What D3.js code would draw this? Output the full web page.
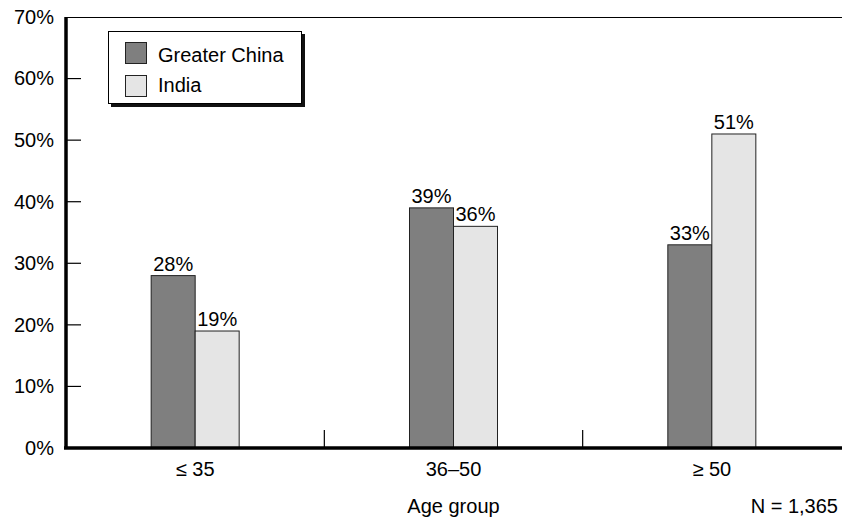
<!DOCTYPE html>
<html>
<head>
<meta charset="utf-8">
<script src="https://cdn.jsdelivr.net/npm/d3@7"></script>
<style>
  html, body { margin: 0; padding: 0; background: #fff; }
  svg { display: block; font-family: "Liberation Sans", Arial, Helvetica, sans-serif; }
</style>
</head>
<body>
<svg id="chart" width="842" height="517"></svg>
<script>
// Share of respondents by age group
const ageGroups = ["≤ 35", "36–50", "≥ 50"];
const seriesNames = ["Greater China", "India"];
const greaterChina = [28, 39, 33];
const india = [19, 36, 51];
const yTicks = [0, 10, 20, 30, 40, 50, 60, 70];
const xTitle = "Age group";
const sampleNote = "N = 1,365";

const colors = ["#7f7f7f", "#e5e5e5"];
const seriesValues = [greaterChina, india];
const FS = 20;

const svg = d3.select("#chart");
const W = 842;
const plotLeft = 66, plotRight = 841, plotTop = 17, plotBottom = 448;

const x = d3.scaleBand().domain(ageGroups).range([plotLeft, plotRight]);
const xInner = d3.scaleBand().domain(seriesNames).range([0, 88]);
const y = d3.scaleLinear().domain([0, 70]).range([plotBottom, plotTop]);

// top frame line
svg.append("line")
  .attr("x1", plotLeft).attr("x2", W).attr("y1", plotTop + 0.5).attr("y2", plotTop + 0.5)
  .attr("stroke", "#000").attr("stroke-width", 1);

// y axis labels and inward ticks
const yAxis = d3.axisLeft(y).tickValues(yTicks).tickFormat(d => d + "%").tickSize(0).tickPadding(12);
const gy = svg.append("g").attr("transform", `translate(${plotLeft},0)`).call(yAxis);
gy.select(".domain").remove();
gy.selectAll("text").attr("font-size", FS).attr("fill", "#000")
  .attr("font-family", "Liberation Sans, Arial, sans-serif");
svg.append("g").selectAll("line")
  .data(yTicks.filter(d => d > 0 && d < 70))
  .join("line")
  .attr("x1", plotLeft).attr("x2", plotLeft + 15)
  .attr("y1", d => y(d)).attr("y2", d => y(d))
  .attr("stroke", "#000").attr("stroke-width", 1.2);

// bars
const groups = svg.append("g").selectAll("g")
  .data(ageGroups)
  .join("g")
  .attr("transform", d => `translate(${x(d) + x.bandwidth() / 2 - 44},0)`);

const cells = (d, i) => seriesNames.map((s, j) => ({ s, v: seriesValues[j][i], j }));

groups.selectAll("rect")
  .data(cells)
  .join("rect")
  .attr("x", d => xInner(d.s))
  .attr("y", d => y(d.v))
  .attr("width", xInner.bandwidth())
  .attr("height", d => y(0) - y(d.v))
  .attr("fill", d => colors[d.j])
  .attr("stroke", "#222")
  .attr("stroke-width", 1);

groups.selectAll("text")
  .data(cells)
  .join("text")
  .attr("x", d => xInner(d.s) + xInner.bandwidth() / 2)
  .attr("y", d => y(d.v) - 5)
  .attr("text-anchor", "middle")
  .attr("font-size", FS)
  .text(d => d.v + "%");

// axis lines and category separators
svg.append("line")
  .attr("x1", plotLeft - 2).attr("x2", W).attr("y1", plotBottom).attr("y2", plotBottom)
  .attr("stroke", "#000").attr("stroke-width", 3.5);
svg.append("line")
  .attr("x1", plotLeft).attr("x2", plotLeft).attr("y1", plotTop).attr("y2", plotBottom)
  .attr("stroke", "#000").attr("stroke-width", 3.5);
svg.append("g").selectAll("line")
  .data(ageGroups.slice(1))
  .join("line")
  .attr("x1", d => x(d)).attr("x2", d => x(d))
  .attr("y1", plotBottom - 18).attr("y2", plotBottom)
  .attr("stroke", "#000").attr("stroke-width", 1.2);

// category labels
svg.append("g").selectAll("text")
  .data(ageGroups)
  .join("text")
  .attr("x", d => x(d) + x.bandwidth() / 2)
  .attr("y", 476)
  .attr("text-anchor", "middle")
  .attr("font-size", FS)
  .text(d => d);

svg.append("text")
  .attr("x", x(ageGroups[1]) + x.bandwidth() / 2).attr("y", 513)
  .attr("text-anchor", "middle").attr("font-size", FS).text(xTitle);
svg.append("text")
  .attr("x", 838).attr("y", 513)
  .attr("text-anchor", "end").attr("font-size", FS).text(sampleNote);

// legend with drop shadow
const lg = svg.append("g");
lg.append("rect").attr("x", 111).attr("y", 34).attr("width", 194).attr("height", 73).attr("fill", "#111");
lg.append("rect").attr("x", 108.5).attr("y", 31.5).attr("width", 193).attr("height", 72)
  .attr("fill", "#fff").attr("stroke", "#000").attr("stroke-width", 1);
seriesNames.forEach((s, j) => {
  lg.append("rect").attr("x", 125.5).attr("y", 42.5 + j * 33).attr("width", 21).attr("height", 21)
    .attr("fill", colors[j]).attr("stroke", "#222").attr("stroke-width", 1);
  lg.append("text").attr("x", 158).attr("y", 62 + j * 30).attr("font-size", FS).text(s);
});
</script>
</body>
</html>
